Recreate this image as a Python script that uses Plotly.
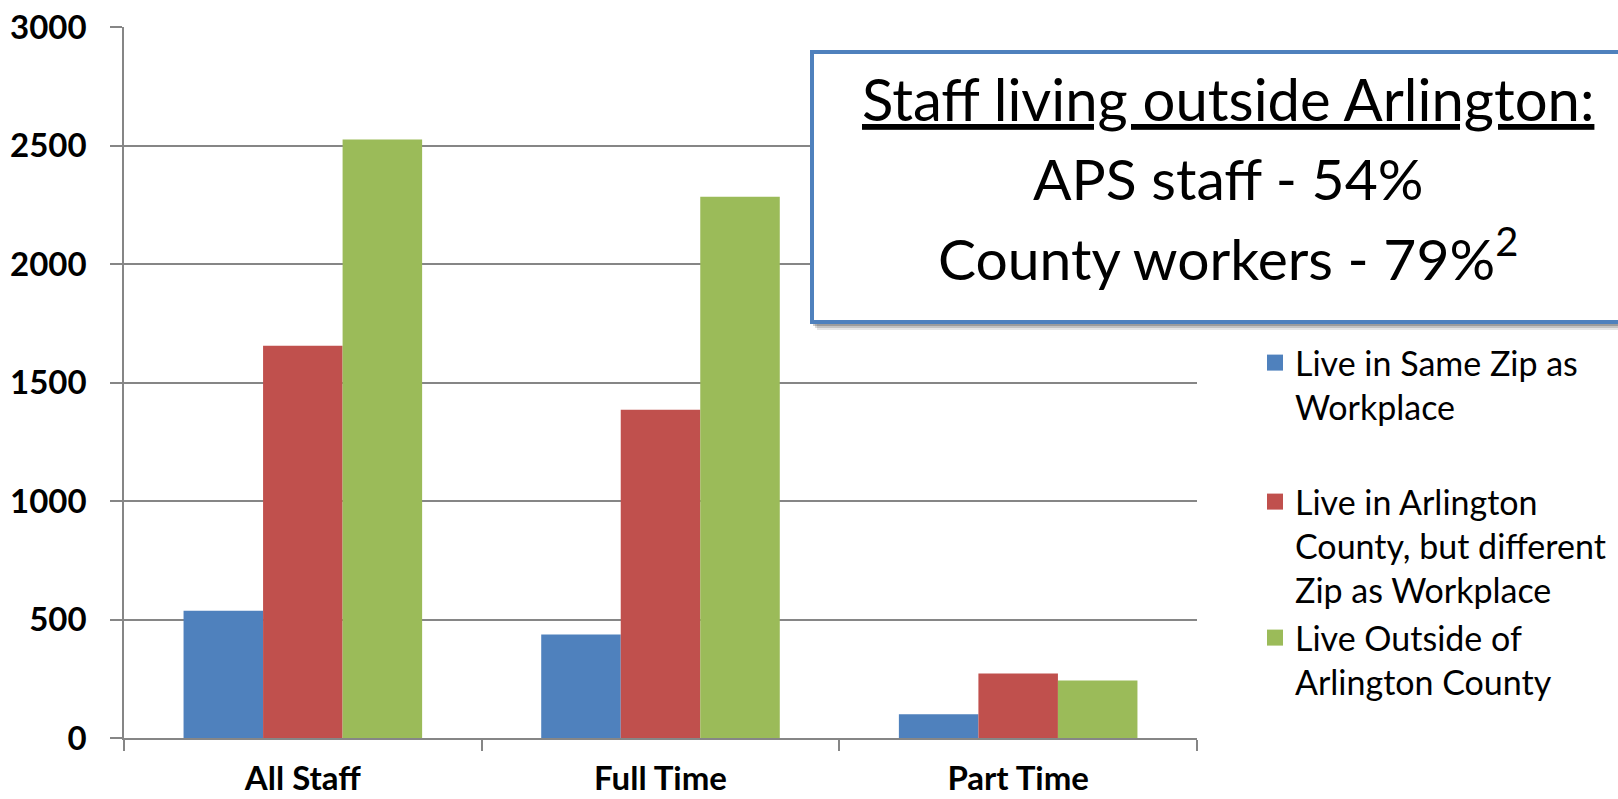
import plotly.graph_objects as go

categories = ["All Staff", "Full Time", "Part Time"]
series_names = [
    "Live in Same Zip as<br>Workplace",
    "Live in Arlington<br>County, but different<br>Zip as Workplace",
    "Live Outside of<br>Arlington County",
]
same_zip = [537, 437, 100]
arlington_diff_zip = [1655, 1385, 272]
outside_arlington = [2525, 2284, 243]
colors = ["#4F81BD", "#C0504D", "#9BBB59"]
y_ticks = [0, 500, 1000, 1500, 2000, 2500, 3000]

FONT = "Lato"
W, H = 1618, 799
ML, MR, MT, MB = 124, 421, 27, 61
PW = W - ML - MR
PH = H - MT - MB


def px(x):
    return (x - ML) / PW


def py(y):
    return (H - MB - y) / PH


fig = go.Figure()
for name, vals, col in zip(series_names, [same_zip, arlington_diff_zip, outside_arlington], colors):
    fig.add_trace(go.Bar(x=categories, y=vals, name=name, marker=dict(color=col, line=dict(width=0)),
                         showlegend=False))

legend_tops = [334, 473, 609]
legend_keys = ["legend", "legend2", "legend3"]
for i, (name, col) in enumerate(zip(series_names, colors)):
    fig.add_trace(go.Scatter(x=[None], y=[None], mode="markers", name=name,
                             marker=dict(symbol="square", size=16, color=col, line=dict(width=0)),
                             legend=legend_keys[i], showlegend=True))

leg_common = dict(font=dict(family=FONT, size=34, color="#000000"), bgcolor="rgba(0,0,0,0)",
                  xanchor="left", yanchor="top", valign="top", borderwidth=0)
fig.update_layout(
    legend=dict(x=px(1255), y=py(legend_tops[0]), **leg_common),
    legend2=dict(x=px(1255), y=py(legend_tops[1]), **leg_common),
    legend3=dict(x=px(1255), y=py(legend_tops[2]), **leg_common),
)

# callout box with shadow
for off, op in [(7, 0.10), (5, 0.15), (3, 0.2)]:
    fig.add_shape(type="rect", xref="paper", yref="paper",
                  x0=px(810 + off), x1=px(1700), y0=py(323 + off), y1=py(50 + off),
                  line=dict(width=0), fillcolor="rgba(0,0,0,%s)" % op, layer="above")
fig.add_shape(type="rect", xref="paper", yref="paper",
              x0=px(812), x1=px(1700), y0=py(322), y1=py(52),
              line=dict(color="#4F81BD", width=4), fillcolor="#FFFFFF", layer="above")

box_lines = [
    ("<u>Staff living outside Arlington:</u>", 98, 58),
    ("APS staff - 54%", 178, 57),
    ("County workers - 79%<sup>2</sup>", 254, 57),
]
for txt, yc, fs in box_lines:
    fig.add_annotation(text=txt, xref="paper", yref="paper", x=px(1228), y=py(yc),
                       xanchor="center", yanchor="middle", showarrow=False,
                       font=dict(family=FONT, size=fs, color="#000000"))

fig.update_layout(
    width=W, height=H,
    margin=dict(l=ML, r=MR, t=MT, b=MB, autoexpand=False),
    plot_bgcolor="#FFFFFF", paper_bgcolor="#FFFFFF",
    barmode="group", bargap=0.333, bargroupgap=0,
    xaxis=dict(
        type="category", showline=True, linecolor="#868686", linewidth=1.5,
        ticks="outside", tickson="boundaries", ticklen=11, tickcolor="#868686", tickwidth=1.5,
        showgrid=False, tickfont=dict(family=FONT, size=33, color="#000000", weight="bold"),
        ticklabelstandoff=11, automargin=False,
    ),
    yaxis=dict(
        range=[0, 3000], tickvals=y_ticks, ticktext=[str(v) for v in y_ticks],
        showline=True, linecolor="#868686", linewidth=1.5,
        ticks="outside", ticklen=12, tickcolor="#868686", tickwidth=1.5,
        showgrid=True, gridcolor="#868686", gridwidth=1.5, zeroline=False,
        tickfont=dict(family=FONT, size=33, color="#000000", weight="bold"),
        ticklabelstandoff=17, automargin=False,
    ),
)

fig.write_html("out.html", config={"displayModeBar": False},
               post_script="document.body.style.margin='0';document.body.style.overflow='hidden';")
